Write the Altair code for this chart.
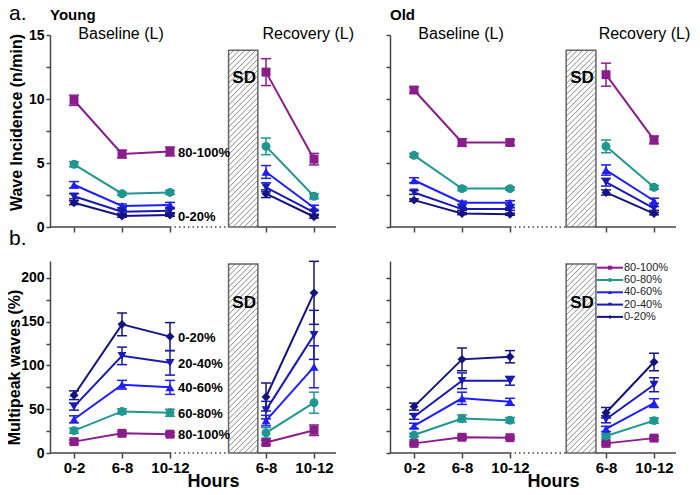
import altair as alt
import pandas as pd
import numpy as np

# ---------------- data ----------------
series = ["80-100%", "60-80%", "40-60%", "20-40%", "0-20%"]
colors = ["#8B1C8C", "#209691", "#1E1EF5", "#1919B4", "#14147D"]
shapes = ["square", "circle", "triangle-up", "triangle-down", "diamond"]
positions = [0, 1, 2, 4, 5]
hour_labels = ["0-2", "6-8", "10-12", "6-8", "10-12"]
phases = ["Baseline", "Baseline", "Baseline", "Recovery", "Recovery"]

young_wave = {
    "80-100%": [9.9, 5.7, 5.9, 12.1, 5.3],
    "60-80%": [4.9, 2.6, 2.7, 6.3, 2.4],
    "40-60%": [3.3, 1.65, 1.72, 4.3, 1.5],
    "20-40%": [2.4, 1.2, 1.27, 3.1, 1.15],
    "0-20%": [1.9, 0.86, 0.94, 2.6, 0.8],
}
young_wave_err = {
    "80-100%": [0.4, 0.3, 0.35, 1.05, 0.45],
    "60-80%": [0.2, 0.12, 0.15, 0.65, 0.2],
    "40-60%": [0.25, 0.15, 0.2, 0.5, 0.2],
    "20-40%": [0.2, 0.12, 0.15, 0.35, 0.15],
    "0-20%": [0.15, 0.1, 0.1, 0.3, 0.1],
}
old_wave = {
    "80-100%": [10.7, 6.6, 6.6, 11.9, 6.8],
    "60-80%": [5.6, 3.0, 3.0, 6.3, 3.1],
    "40-60%": [3.65, 1.9, 1.9, 4.45, 2.05],
    "20-40%": [2.7, 1.4, 1.4, 3.5, 1.45],
    "0-20%": [2.1, 1.05, 1.0, 2.7, 1.05],
}
old_wave_err = {
    "80-100%": [0.25, 0.3, 0.2, 0.9, 0.3],
    "60-80%": [0.15, 0.15, 0.12, 0.5, 0.15],
    "40-60%": [0.2, 0.12, 0.15, 0.4, 0.2],
    "20-40%": [0.15, 0.1, 0.1, 0.3, 0.15],
    "0-20%": [0.1, 0.08, 0.08, 0.2, 0.1],
}
young_multi = {
    "80-100%": [13, 22.5, 21.5, 12, 26],
    "60-80%": [25.5, 47.5, 46, 23, 57.5],
    "40-60%": [38.5, 78, 75, 37, 98.5],
    "20-40%": [53, 111, 103, 49, 135],
    "0-20%": [66, 147, 133, 64, 183],
}
young_multi_err = {
    "80-100%": [2, 2, 2, 2.5, 6],
    "60-80%": [3, 3, 4, 6, 12],
    "40-60%": [4, 5, 8, 6, 24],
    "20-40%": [4, 10, 14, 10, 28],
    "0-20%": [5, 13, 16, 16, 36],
}
old_multi = {
    "80-100%": [11, 18, 17.5, 11, 17],
    "60-80%": [20.5, 39.5, 37.5, 19.5, 37],
    "40-60%": [31, 62.5, 58.5, 27.5, 57],
    "20-40%": [41.5, 82.5, 82.5, 38.5, 78],
    "0-20%": [53, 107, 110, 46, 104],
}
old_multi_err = {
    "80-100%": [1.5, 2, 1.5, 1.5, 2],
    "60-80%": [2, 4, 3, 2, 3],
    "40-60%": [3, 7, 4, 3, 5],
    "20-40%": [3, 9, 5, 4, 8],
    "0-20%": [4, 13, 7, 6, 10],
}

rows = []
for group, measure, means, errs in [
    ("Young", "wave", young_wave, young_wave_err),
    ("Old", "wave", old_wave, old_wave_err),
    ("Young", "multi", young_multi, young_multi_err),
    ("Old", "multi", old_multi, old_multi_err),
]:
    for s in series:
        for i in range(len(positions)):
            rows.append(dict(group=group, measure=measure, series=s, pos=positions[i],
                             phase=phases[i], value=means[s][i], err=errs[s][i]))
df = pd.DataFrame(rows)
df["lo"] = df["value"] - df["err"]
df["hi"] = df["value"] + df["err"]

# ---------------- layout helpers ----------------
PW, PH = 286, 192
XD = [-0.5, 5.458]
PXU = PW / (XD[1] - XD[0])
FONT = "Liberation Sans"
AXC = "#444444"

lab_expr = ""
for p, l in zip(positions[:-1], hour_labels[:-1]):
    lab_expr += f"datum.value == {p} ? '{l}' : "
lab_expr += f"'{hour_labels[-1]}'"

color_enc = alt.Color("series:N", scale=alt.Scale(domain=series, range=colors), legend=None)
shape_enc = alt.Shape("series:N", scale=alt.Scale(domain=series, range=shapes), legend=None)


def build_panel(group, measure):
    top = measure == "wave"
    young = group == "Young"
    d = df[(df.group == group) & (df.measure == measure)]
    ymax = 15 if top else 219.4
    ppu = PH / ymax
    ystep = 2.5 if top else 25
    lstep = 5 if top else 50
    ytop_tick = 15 if top else 200
    yvals = list(np.arange(0, ytop_tick + 0.001, ystep))

    xs = alt.Scale(domain=XD, nice=False, zero=False)
    ys = alt.Scale(domain=[0, ymax], nice=False, zero=False)

    xaxis = alt.Axis(values=positions, labelExpr=lab_expr, labels=not top, domain=False,
                     grid=False, ticks=True, tickSize=5, tickWidth=1.5, tickColor=AXC,
                     labelFontSize=15, labelFontWeight="bold", labelFont=FONT,
                     labelColor="black", labelPadding=2, titleFontSize=18,
                     titleFontWeight="bold", titleFont=FONT, titleColor="black",
                     titleX=163, titleY=33, titleBaseline="alphabetic")
    yaxis = alt.Axis(values=yvals, labelExpr=f"datum.value % {lstep} == 0 ? datum.label : ''",
                     labels=young, grid=False, domain=True, domainColor=AXC, domainWidth=1.5,
                     ticks=True, tickSize=4, tickWidth=1.5, tickColor=AXC,
                     labelFontSize=14, labelFontWeight="bold", labelFont=FONT,
                     labelColor="black", labelPadding=2, titleFontSize=16,
                     titleFontWeight="bold", titleFont=FONT, titleColor="black",
                     titleX=-26 if top else -28, titleY=87 if top else 106)
    xtitle = None if top else "Hours"
    if young:
        ytitle = "Wave Incidence (n/min)" if top else "Multipeak waves (%)"
    else:
        ytitle = None

    def X(f):
        return alt.X(f"{f}:Q", scale=xs, axis=xaxis, title=xtitle)

    def Y(f):
        return alt.Y(f"{f}:Q", scale=ys, axis=yaxis, title=ytitle)

    layers = []

    # SD box with hatching
    bx1, bx2 = (3.22, 3.83) if young else (3.17, 3.79)
    btop = 13.8 if top else 216
    box = pd.DataFrame({"x1": [bx1], "x2": [bx2], "y1": [0], "y2": [btop]})
    layers.append(alt.Chart(box).mark_rect(fill="white", stroke="#666666", strokeWidth=1.5)
                  .encode(x=X("x1"), x2="x2", y=Y("y1"), y2="y2"))
    W = (bx2 - bx1) * PXU
    H = btop * ppu
    s = 5.5
    segs = []
    c = -W + s / 2
    while c < H:
        px0 = max(0.0, -c)
        px1 = min(W, H - c)
        if px1 > px0 + 0.5:
            segs.append(dict(hx=bx1 + px0 / PXU, hx2=bx1 + px1 / PXU,
                             hy=(px0 + c) / ppu, hy2=(px1 + c) / ppu))
        c += s
    layers.append(alt.Chart(pd.DataFrame(segs)).mark_rule(color="#555555", strokeWidth=0.7)
                  .encode(x=X("hx"), x2="hx2", y=Y("hy"), y2="hy2"))
    sd = pd.DataFrame({"t": ["SD"], "x": [(bx1 + bx2) / 2 + 0.02], "y": [11.23 if top else 165.4]})
    layers.append(alt.Chart(sd).mark_text(fontSize=17, fontWeight="bold", font=FONT,
                                          color="black", baseline="alphabetic")
                  .encode(x=X("x"), y=Y("y"), text="t:N"))

    # broken baseline
    solid = pd.DataFrame({"bx": [XD[0], bx2], "bx2": [2, XD[1]]})
    layers.append(alt.Chart(solid).mark_rule(color=AXC, strokeWidth=1.5)
                  .encode(x=X("bx"), x2="bx2", y=alt.value(PH)))
    dots = pd.DataFrame({"bx": [2], "bx2": [bx1]})
    layers.append(alt.Chart(dots).mark_rule(color=AXC, strokeWidth=1.5, strokeDash=[1.5, 3])
                  .encode(x=X("bx"), x2="bx2", y=alt.value(PH)))

    # error bars
    layers.append(alt.Chart(d).mark_rule(strokeWidth=1.5)
                  .encode(x=X("pos"), y=Y("lo"), y2="hi", color=color_enc))
    for f in ["lo", "hi"]:
        layers.append(alt.Chart(d).mark_tick(orient="horizontal", size=10, thickness=1.5, opacity=1)
                      .encode(x=X("pos"), y=Y(f), color=color_enc))
    # lines & points
    layers.append(alt.Chart(d).mark_line(strokeWidth=2)
                  .encode(x=X("pos"), y=Y("value"), color=color_enc, detail="phase:N"))
    layers.append(alt.Chart(d).mark_point(filled=True, size=80, opacity=1)
                  .encode(x=X("pos"), y=Y("value"), color=color_enc, shape=shape_enc))

    # series labels (Young)
    if young:
        lab_series = ["80-100%", "0-20%"] if top else series
        ld = d[(d.pos == 2) & (d.series.isin(lab_series))]
        layers.append(alt.Chart(ld).mark_text(align="left", dx=8, dy=2 if top else 1,
                                              baseline="middle", fontSize=13, fontWeight="bold",
                                              font=FONT, color="black")
                      .encode(x=X("pos"), y=Y("value"), text="series:N"))

    # legend (Old, bottom)
    if (not young) and (not top):
        ypix = [6.7 + 12.3 * i for i in range(len(series))]
        leg = pd.DataFrame({
            "series": series,
            "ly": [ymax * (1 - yp / PH) for yp in ypix],
            "lx1": [XD[0] + 207 / PXU] * len(series),
            "lx2": [XD[0] + 233 / PXU] * len(series),
            "lm": [XD[0] + 220 / PXU] * len(series),
            "lt": [XD[0] + 234 / PXU] * len(series),
        })
        layers.append(alt.Chart(leg).mark_rule(strokeWidth=2)
                      .encode(x=X("lx1"), x2="lx2", y=Y("ly"), color=color_enc))
        layers.append(alt.Chart(leg).mark_point(filled=True, size=16, opacity=1)
                      .encode(x=X("lm"), y=Y("ly"), color=color_enc, shape=shape_enc))
        layers.append(alt.Chart(leg).mark_text(align="left", baseline="middle", fontSize=11,
                                               font=FONT, color="#222222")
                      .encode(x=X("lt"), y=Y("ly"), text="series:N"))

    # phase headers (top row)
    if top:
        hd = pd.DataFrame({"t": ["Baseline (L)", "Recovery (L)"],
                           "x": [0.98, 4.88 if young else 4.8],
                           "y": [14.66, 14.66]})
        layers.append(alt.Chart(hd).mark_text(fontSize=16, font=FONT, color="black",
                                              baseline="alphabetic")
                      .encode(x=X("x"), y=Y("y"), text="t:N"))
        gl = pd.DataFrame({"t": [group]})
        layers.append(alt.Chart(gl).mark_text(fontSize=15, fontWeight="bold", font=FONT,
                                              color="black", align="left", baseline="alphabetic")
                      .encode(x=alt.value(0), y=alt.value(-15), text="t:N"))
    if young:
        tag = pd.DataFrame({"t": ["a." if top else "b."]})
        layers.append(alt.Chart(tag).mark_text(fontSize=21, font=FONT, color="black",
                                               align="left", baseline="alphabetic")
                      .encode(x=alt.value(-41), y=alt.value(-15 if top else -16), text="t:N"))

    return alt.layer(*layers).properties(width=PW, height=PH)


chart = alt.concat(
    build_panel("Young", "wave"),
    build_panel("Old", "wave"),
    build_panel("Young", "multi"),
    build_panel("Old", "multi"),
    columns=2,
    spacing={"row": 34, "column": 54},
    bounds="flush",
).properties(
    autosize=alt.AutoSizeParams(type="none"),
    padding={"left": 42, "top": 27, "right": 642, "bottom": 452},
).configure(font=FONT).configure_view(stroke=None)

chart.save("out.html", embed_options={"renderer": "svg", "actions": False})
